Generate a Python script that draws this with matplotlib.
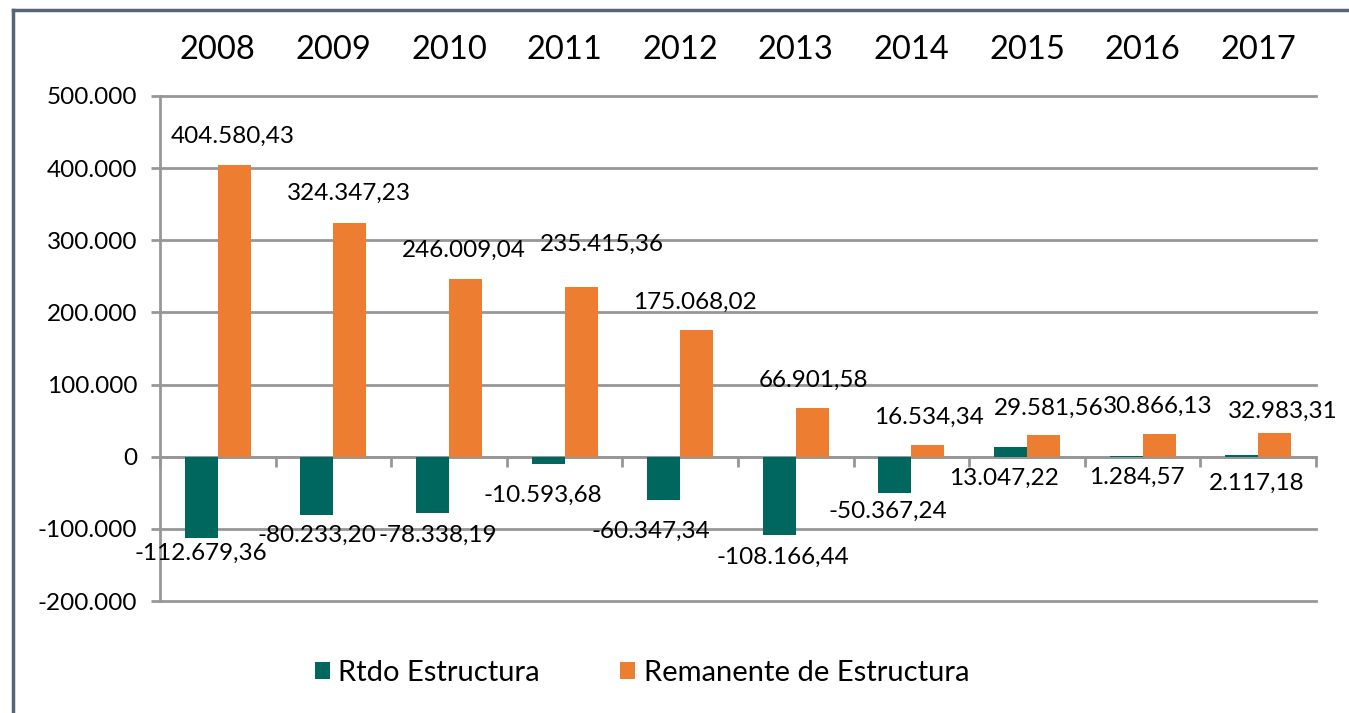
import matplotlib.pyplot as plt
import numpy as np
from matplotlib.lines import Line2D
from matplotlib.ticker import FuncFormatter

plt.rcParams['font.family'] = ['Lato', 'DejaVu Sans']
plt.rcParams['axes.unicode_minus'] = False

# Datos
years = ['2008', '2009', '2010', '2011', '2012', '2013', '2014', '2015', '2016', '2017']
rtdo = [-112679.36, -80233.20, -78338.19, -10593.68, -60347.34,
        -108166.44, -50367.24, 13047.22, 1284.57, 2117.18]
remanente = [404580.43, 324347.23, 246009.04, 235415.36, 175068.02,
             66901.58, 16534.34, 29581.56, 30866.13, 32983.31]
series_names = ['Rtdo Estructura', 'Remanente de Estructura']

# desplazamiento de etiquetas (pixeles) tal como estan colocadas a mano en el original
rem_off = [(-2, 28), (-1, 29), (-2, 29), (21, 43), (-2, 28),
           (1, 28), (1, 27), (5, 27), (-1, 28), (8, 22)]
rtdo_off = [(-1, -15), (0, -21), (5, -22), (-5, -31), (-13, -31),
            (4, -23), (-7, -18), (-7, -31), (11, -22), (15, -28)]

green = '#00675f'
orange = '#ed7d31'
gridc = '#979797'


def fmt_num(v, dec):
    s = f'{v:,.{dec}f}'
    return s.replace(',', 'X').replace('.', ',').replace('X', '.')


W, H = 1349, 713
fig = plt.figure(figsize=(W / 100, H / 100), dpi=100)
ax = fig.add_axes([160 / W, 1 - 601 / H, (1316 - 160) / W, (601 - 96) / H])

x = np.arange(len(years))
w = 0.285
ax.bar(x - w / 2, rtdo, w, color=green, label=series_names[0], zorder=3)
ax.bar(x + w / 2, remanente, w, color=orange, label=series_names[1], zorder=3)

ax.set_xlim(-0.5, len(years) - 0.5)
ax.set_ylim(-200000, 500000)
yt = np.arange(-200000, 500001, 100000)
ax.set_yticks(yt)
ax.yaxis.set_major_formatter(FuncFormatter(lambda v, p: fmt_num(v, 0)))
for v in yt:
    ax.axhline(v, color=gridc, lw=2, zorder=1, clip_on=False)

# eje de categorias en el cero
ax.spines['bottom'].set_position(('data', 0))
ax.spines['bottom'].set_color(gridc)
ax.spines['bottom'].set_linewidth(2)
ax.set_xticks(np.arange(-0.5, len(years), 1.0))
ax.set_xticklabels([])
ax.tick_params(axis='x', direction='out', length=7, width=2, color=gridc)
ax.spines['left'].set_color(gridc)
ax.spines['left'].set_linewidth(2)
ax.spines['top'].set_visible(False)
ax.spines['right'].set_visible(False)
ax.tick_params(axis='y', direction='out', length=6.5, width=2, color=gridc,
               pad=10, labelsize=17.5)

# años arriba
for i, yr in enumerate(years):
    ax.annotate(yr, xy=(i, 1), xycoords=('data', 'axes fraction'),
                xytext=(0, 46), textcoords='offset pixels',
                ha='center', va='center', fontsize=23.5)

# etiquetas de datos
for i in range(len(years)):
    ax.annotate(fmt_num(remanente[i], 2), xy=(x[i] + w / 2, remanente[i]),
                xytext=rem_off[i], textcoords='offset pixels',
                ha='center', va='center', fontsize=17.5, zorder=5)
    ax.annotate(fmt_num(rtdo[i], 2), xy=(x[i] - w / 2, rtdo[i]),
                xytext=rtdo_off[i], textcoords='offset pixels',
                ha='center', va='center', fontsize=17.5, zorder=5)

fig.legend(loc='center', bbox_to_anchor=(642 / W, 1 - 673 / H), ncol=2,
           frameon=False, fontsize=21, handlelength=0.5, handleheight=0.5,
           handletextpad=0.3, columnspacing=2.75)

# marco exterior
fig.add_artist(Line2D([12.5 / W, 12.5 / W], [0, 1 - 10 / H], color='#56657a', lw=2.5))
fig.add_artist(Line2D([12.5 / W, 1], [1 - 10 / H, 1 - 10 / H], color='#56657a', lw=2.5))

fig.savefig('out.png', dpi=100)
